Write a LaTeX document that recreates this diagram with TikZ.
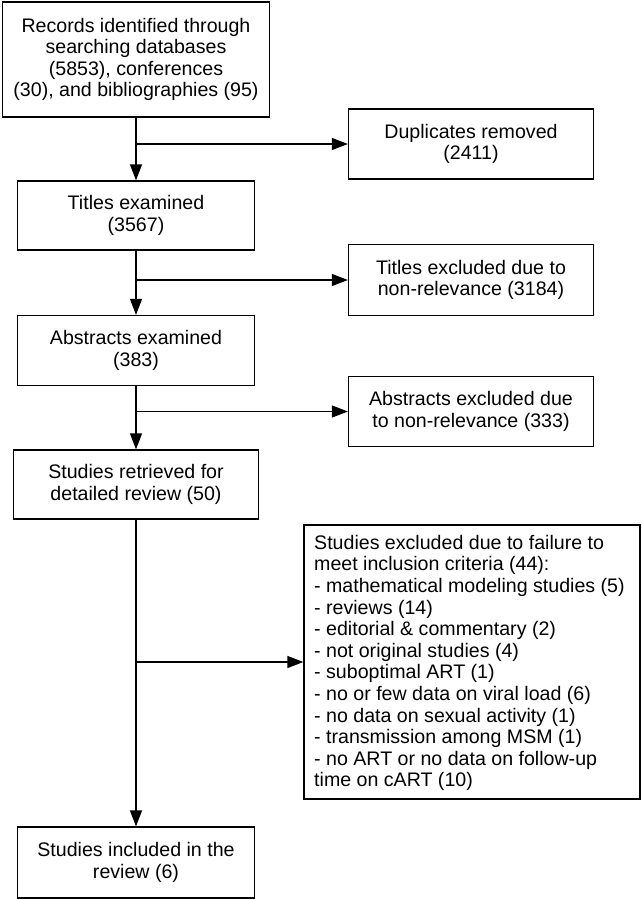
\documentclass[tikz,border=0pt]{standalone}
\usepackage{fontspec}
\setmainfont{Liberation Sans}
\usetikzlibrary{arrows.meta}
\begin{document}
\begin{tikzpicture}[x=1pt,y=-1pt,
  txt/.style={font=\fontsize{19.6}{21.6}\selectfont},
  box/.style={draw, line width=1.3pt, align=center, inner sep=0pt, txt},
  arr/.style={-{Triangle[length=16pt,width=12pt]}, line width=1.3pt}]
\useasboundingbox (0,0) rectangle (641,900);
\node[box, minimum width=267pt, minimum height=115pt] (rec) at (136,59.5)
  {Records identified through\\searching databases\\(5853), conferences\\(30), and bibliographies (95)};
\node[box, minimum width=245pt, minimum height=70pt] (dup) at (471,144)
  {Duplicates removed\\(2411)};
\node[box, minimum width=237pt, minimum height=69pt] (tit) at (136,215.5)
  {Titles examined\\(3567)};
\node[box, minimum width=245pt, minimum height=71pt] (texc) at (471,280)
  {Titles excluded due to\\non-relevance (3184)};
\node[box, minimum width=237pt, minimum height=70pt] (abs) at (136,350.5)
  {Abstracts examined\\(383)};
\node[box, minimum width=245pt, minimum height=70pt] (aexc) at (471,411.5)
  {Abstracts excluded due\\to non-relevance (333)};
\node[box, minimum width=245pt, minimum height=69pt] (ret) at (136,484.5)
  {Studies retrieved for\\detailed review (50)};
\node[box, minimum width=336pt, minimum height=274pt] (big) at (472,662) {};
\node[anchor=west, align=left, inner sep=0pt, txt] (bigtext) at (314,663)
  {Studies excluded due to failure to\\meet inclusion criteria (44):\\- mathematical modeling studies (5)\\- reviews (14)\\- editorial \& commentary (2)\\- not original studies (4)\\- suboptimal ART (1)\\- no or few data on viral load (6)\\- no data on sexual activity (1)\\- transmission among MSM (1)\\- no ART or no data on follow-up\\time on cART (10)};
\node[box, minimum width=237pt, minimum height=71pt] (inc) at (136,862.5)
  {Studies included in the\\review (6)};
\draw[arr] (rec.south) -- (tit.north);
\draw[arr] (rec.south |- dup.west) -- (dup.west);
\draw[arr] (tit.south) -- (abs.north);
\draw[arr] (tit.south |- texc.west) -- (texc.west);
\draw[arr] (abs.south) -- (ret.north);
\draw[arr] (abs.south |- aexc.west) -- (aexc.west);
\draw[arr] (ret.south) -- (inc.north);
\draw[arr] (ret.south |- big.west) -- (big.west);
\end{tikzpicture}
\end{document}
